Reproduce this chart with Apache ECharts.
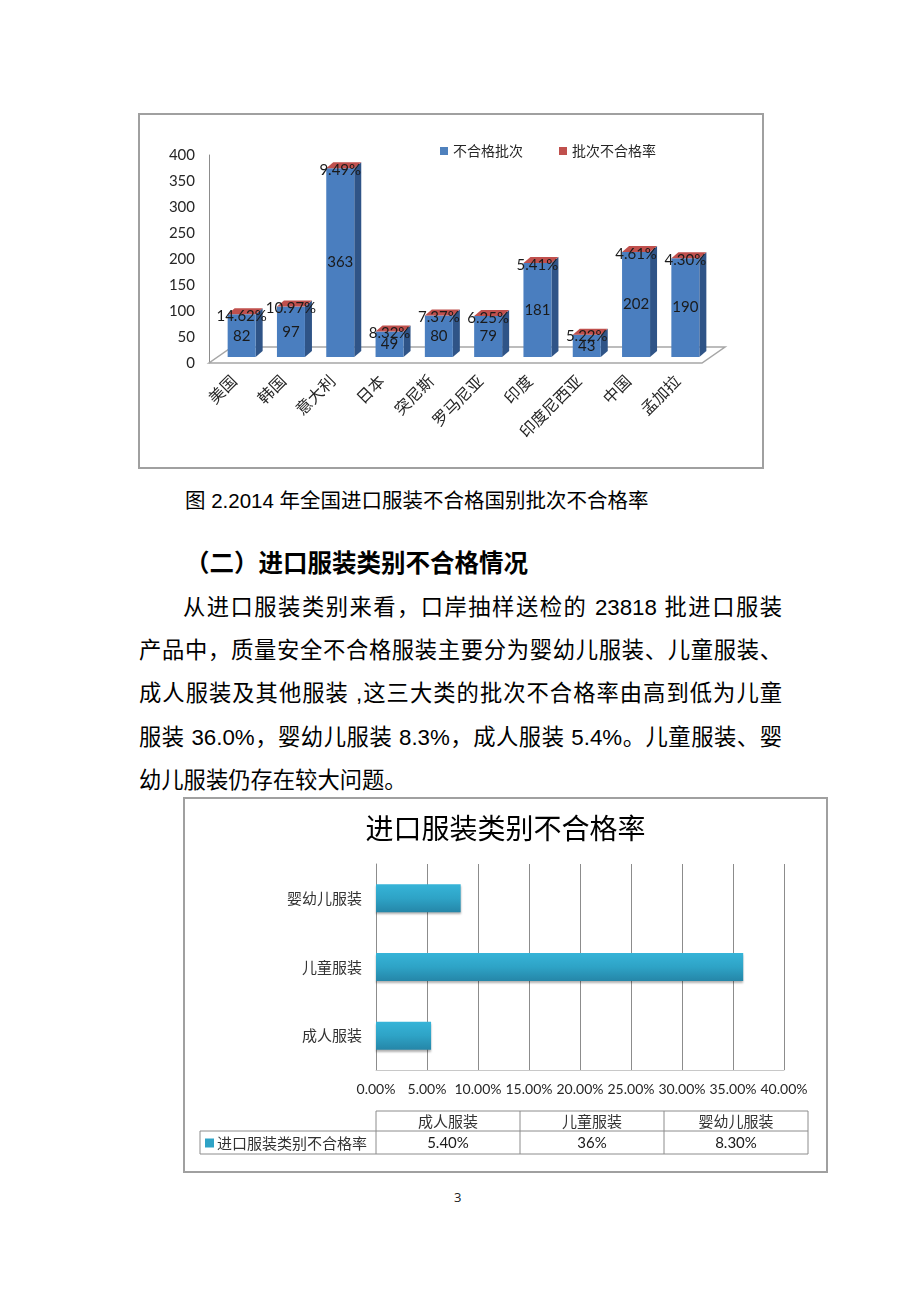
<!DOCTYPE html>
<html>
<head>
<meta charset="utf-8">
<script src="https://cdn.jsdelivr.net/npm/echarts@6/dist/echarts.min.js"></script>
<style>
  html, body { margin:0; padding:0; background:#fff; }
  body { width:920px; height:1302px; position:relative; overflow:hidden;
         font-family:"Liberation Sans","Noto Sans CJK SC",sans-serif; color:#000; }
  .abs { position:absolute; }
  .line { position:absolute; white-space:nowrap; font-size:22.3px; line-height:30px; }
  .just { text-align:justify; text-align-last:justify; text-justify:inter-character; }
  .frame { position:absolute; border:2px solid #a0a0a0; box-sizing:border-box; pointer-events:none; }
</style>
</head>
<body>
<div id="c1" class="abs" style="left:138px;top:113px;width:626px;height:356px;"></div>
<div class="frame" style="left:138px;top:113px;width:626px;height:356px;"></div>

<div class="line" style="left:185px;top:486px;font-size:20.5px;">图 2.2014 年全国进口服装不合格国别批次不合格率</div>
<div class="line" style="left:185px;top:549px;font-size:24.5px;font-weight:bold;">（二）进口服装类别不合格情况</div>
<div class="line just" style="left:183px;top:593px;width:599px;">从进口服装类别来看，口岸抽样送检的 23818 批进口服装</div>
<div class="line just" style="left:139px;top:636px;width:643px;">产品中，质量安全不合格服装主要分为婴幼儿服装、儿童服装、</div>
<div class="line just" style="left:139px;top:679px;width:643px;">成人服装及其他服装 ,这三大类的批次不合格率由高到低为儿童</div>
<div class="line just" style="left:139px;top:723px;width:643px;">服装 36.0%，婴幼儿服装 8.3%，成人服装 5.4%。儿童服装、婴</div>
<div class="line" style="left:139px;top:766px;">幼儿服装仍存在较大问题。</div>

<div id="c2" class="abs" style="left:183px;top:797px;width:645px;height:376px;"></div>
<div class="frame" style="left:183px;top:797px;width:645px;height:376px;"></div>

<div class="abs" style="left:454px;top:1188px;font-size:13px;font-family:'Open Sans','Liberation Sans';color:#222;">3</div>

<script>
// ---------- Chart 1 data ----------
const countries = ['美国','韩国','意大利','日本','突尼斯','罗马尼亚','印度','印度尼西亚','中国','孟加拉'];
const failBatches = [82, 97, 363, 49, 80, 79, 181, 43, 202, 190];
const failRates = [14.62, 10.97, 9.49, 8.32, 7.37, 6.25, 5.41, 5.22, 4.61, 4.30];
const seriesNames1 = ['不合格批次', '批次不合格率'];

// ---------- Chart 2 data ----------
const clothCats = ['成人服装', '儿童服装', '婴幼儿服装'];
const clothRates = [5.4, 36, 8.3];
const clothRateLabels = ['5.40%', '36%', '8.30%'];
const seriesName2 = '进口服装类别不合格率';

const NUMFONT = 'Lato, "Noto Sans CJK SC", sans-serif';
const CJKFONT = '"Noto Sans CJK SC", sans-serif';

// 3D projection constants (styling)
const SHIFT_X = 8, SHIFT_Y = -6;   // bars sit mid-depth on the floor
const BAR_W = 28, SIDE_X = 7, SIDE_Y = -6;
const FLOOR_X = 23, FLOOR_Y = -16;

function frontBox(api) {
  const x = api.value(0), v = api.value(1);
  const base = api.coord([x, 0]);
  const top = api.coord([x, v]);
  const fx = base[0] + SHIFT_X - BAR_W / 2;
  const fy = top[1] + SHIFT_Y;
  const by = base[1] + SHIFT_Y;
  return { fx, fy, by, cx: base[0] + SHIFT_X };
}

const chart1 = echarts.init(document.getElementById('c1'));
chart1.setOption({
  animation: false,
  legend: {
    data: seriesNames1, left: 297, top: 26, icon: 'rect', itemWidth: 8, itemHeight: 8, itemGap: 36,
    textStyle: { fontSize: 14, color: '#262626', fontFamily: CJKFONT }
  },
  grid: { left: 71, top: 42, width: 493, height: 208 },
  xAxis: {
    type: 'category', data: countries,
    axisLine: { show: false }, axisTick: { show: false },
    axisLabel: { rotate: 45, margin: 15, fontSize: 16, color: '#262626', fontFamily: CJKFONT, interval: 0 }
  },
  yAxis: {
    type: 'value', min: 0, max: 400, interval: 50,
    axisLine: { show: true, lineStyle: { color: '#8c8c8c', width: 1 } },
    axisTick: { show: false }, splitLine: { show: false },
    axisLabel: { margin: 14, fontSize: 15, color: '#262626', fontFamily: NUMFONT }
  },
  series: [
    {
      type: 'custom', name: 'floor', silent: true, z: 1,
      data: [[0, 0]],
      renderItem: function (params, api) {
        const p0 = api.coord([0, 0]);
        const pn = api.coord([countries.length - 1, 0]);
        const band = api.size([1, 0])[0];
        const xl = p0[0] - band / 2, xr = pn[0] + band / 2, y = p0[1];
        return {
          type: 'polygon',
          shape: { points: [[xl, y], [xr, y], [xr + FLOOR_X, y + FLOOR_Y], [xl + FLOOR_X, y + FLOOR_Y]] },
          style: { fill: 'none', stroke: '#a6a6a6', lineWidth: 1.5 }
        };
      }
    },
    {
      type: 'custom', name: seriesNames1[0], z: 2,
      itemStyle: { color: '#4f81bd' },
      data: failBatches.map((v, i) => [i, v]),
      renderItem: function (params, api) {
        const b = frontBox(api);
        return {
          type: 'group',
          children: [
            { type: 'polygon',
              shape: { points: [[b.fx + BAR_W, b.fy], [b.fx + BAR_W + SIDE_X, b.fy + SIDE_Y], [b.fx + BAR_W + SIDE_X, b.by + SIDE_Y], [b.fx + BAR_W, b.by]] },
              style: { fill: '#2f5487' } },
            { type: 'rect',
              shape: { x: b.fx, y: b.fy, width: BAR_W, height: b.by - b.fy },
              style: { fill: '#4a7ebf' } },
            { type: 'text', z2: 10,
              style: { text: String(api.value(1)), x: b.cx, y: (b.fy + b.by) / 2, align: 'center', verticalAlign: 'middle',
                       fontSize: 15, fill: '#1a1a1a', fontFamily: NUMFONT } }
          ]
        };
      }
    },
    {
      type: 'custom', name: seriesNames1[1], z: 3,
      itemStyle: { color: '#c0504d' },
      data: failBatches.map((v, i) => [i, v, failRates[i]]),
      renderItem: function (params, api) {
        const b = frontBox(api);
        return {
          type: 'group',
          children: [
            { type: 'polygon',
              shape: { points: [[b.fx, b.fy], [b.fx + SIDE_X, b.fy + SIDE_Y], [b.fx + BAR_W + SIDE_X, b.fy + SIDE_Y], [b.fx + BAR_W, b.fy]] },
              style: { fill: '#c0504d' } },
            { type: 'text', z2: 10,
              style: { text: api.value(2).toFixed(2) + '%', x: b.cx, y: b.fy + 2, align: 'center', verticalAlign: 'middle',
                       fontSize: 15, fill: '#1a1a1a', fontFamily: NUMFONT } }
          ]
        };
      }
    }
  ]
});

// ---------- Chart 2 ----------
const TBL_LEFT = 193, TBL_COL = 144, TBL_TOP = 314, TBL_MID = 334, TBL_BOT = 357, KEY_LEFT = 17;
const tableGraphics = [];
const lineStyle = { stroke: '#8c8c8c', lineWidth: 1 };
const tblRight = TBL_LEFT + TBL_COL * clothCats.length;
tableGraphics.push({ type: 'line', shape: { x1: TBL_LEFT, y1: TBL_TOP, x2: tblRight, y2: TBL_TOP }, style: lineStyle });
tableGraphics.push({ type: 'line', shape: { x1: KEY_LEFT, y1: TBL_MID, x2: tblRight, y2: TBL_MID }, style: lineStyle });
tableGraphics.push({ type: 'line', shape: { x1: KEY_LEFT, y1: TBL_BOT, x2: tblRight, y2: TBL_BOT }, style: lineStyle });
tableGraphics.push({ type: 'line', shape: { x1: KEY_LEFT, y1: TBL_MID, x2: KEY_LEFT, y2: TBL_BOT }, style: lineStyle });
for (let i = 0; i <= clothCats.length; i++) {
  const x = TBL_LEFT + TBL_COL * i;
  tableGraphics.push({ type: 'line', shape: { x1: x, y1: TBL_TOP, x2: x, y2: TBL_BOT }, style: lineStyle });
}
clothCats.forEach((c, i) => {
  const cx = TBL_LEFT + TBL_COL * i + TBL_COL / 2;
  tableGraphics.push({ type: 'text', style: { text: c, x: cx, y: (TBL_TOP + TBL_MID) / 2, align: 'center', verticalAlign: 'middle', fontSize: 15, fill: '#333', fontFamily: CJKFONT } });
  tableGraphics.push({ type: 'text', style: { text: clothRateLabels[i], x: cx, y: (TBL_MID + TBL_BOT) / 2 + 1, align: 'center', verticalAlign: 'middle', fontSize: 15, fill: '#1a1a1a', fontFamily: NUMFONT } });
});
tableGraphics.push({ type: 'rect', shape: { x: KEY_LEFT + 5, y: (TBL_MID + TBL_BOT) / 2 - 4, width: 9, height: 9 }, style: { fill: '#2ea3c6' } });
tableGraphics.push({ type: 'text', style: { text: seriesName2, x: KEY_LEFT + 17, y: (TBL_MID + TBL_BOT) / 2 + 1, align: 'left', verticalAlign: 'middle', fontSize: 15, fill: '#333', fontFamily: CJKFONT } });

const chart2 = echarts.init(document.getElementById('c2'));
chart2.setOption({
  animation: false,
  title: {
    text: '进口服装类别不合格率', left: 'center', top: 12,
    textStyle: { fontSize: 28, fontWeight: 'normal', color: '#000', fontFamily: CJKFONT }
  },
  grid: { left: 193, top: 67, width: 408, height: 206 },
  xAxis: {
    type: 'value', min: 0, max: 40, interval: 5,
    axisLine: { show: true, lineStyle: { color: '#c8c8c8' } },
    axisTick: { show: false },
    splitLine: { show: true, lineStyle: { color: '#8c8c8c' } },
    axisLabel: { formatter: v => v.toFixed(2) + '%', margin: 12, fontSize: 14, color: '#262626', fontFamily: NUMFONT, showMaxLabel: true }
  },
  yAxis: {
    type: 'category', data: clothCats,
    axisLine: { show: true, lineStyle: { color: '#8c8c8c' } },
    axisTick: { show: false },
    axisLabel: { margin: 14, fontSize: 15, color: '#333', fontFamily: CJKFONT }
  },
  series: [{
    type: 'bar', name: seriesName2, data: clothRates, barWidth: 28,
    itemStyle: {
      color: new echarts.graphic.LinearGradient(0, 0, 0, 1, [
        { offset: 0, color: '#36b4d8' }, { offset: 0.5, color: '#2ea3c6' }, { offset: 1, color: '#2586a8' }
      ]),
      shadowColor: 'rgba(0,0,0,0.3)', shadowBlur: 2, shadowOffsetY: 2
    }
  }],
  graphic: tableGraphics
});
</script>
</body>
</html>
